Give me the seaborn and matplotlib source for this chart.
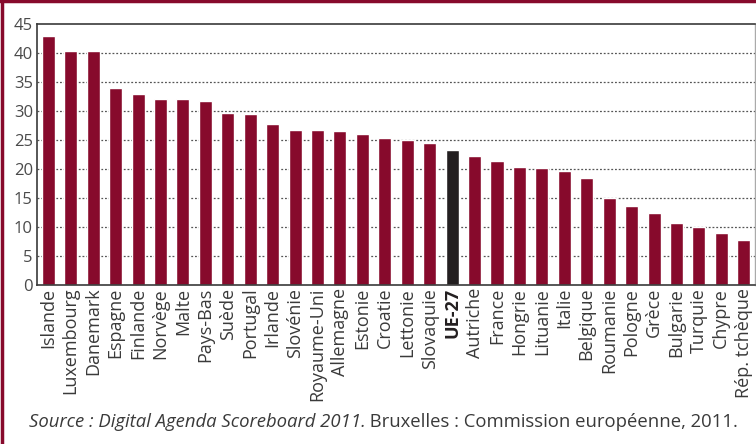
import pandas as pd
import matplotlib.pyplot as plt
import seaborn as sns
from matplotlib.lines import Line2D

# Data
countries = ["Islande", "Luxembourg", "Danemark", "Espagne", "Finlande", "Norvège",
             "Malte", "Pays-Bas", "Suède", "Portugal", "Irlande", "Slovénie",
             "Royaume-Uni", "Allemagne", "Estonie", "Croatie", "Lettonie", "Slovaquie",
             "UE-27", "Autriche", "France", "Hongrie", "Lituanie", "Italie", "Belgique",
             "Roumanie", "Pologne", "Grèce", "Bulgarie", "Turquie", "Chypre", "Rép. tchèque"]
values = [42.9, 40.3, 40.3, 34.0, 32.9, 32.1,
          32.1, 31.7, 29.7, 29.5, 27.8, 26.7,
          26.7, 26.5, 26.0, 25.3, 25.0, 24.5,
          23.3, 22.2, 21.4, 20.3, 20.2, 19.7, 18.4,
          15.0, 13.6, 12.4, 10.7, 10.0, 9.0, 7.8]
yticks = [0, 5, 10, 15, 20, 25, 30, 35, 40, 45]
source_italic = "Source : Digital Agenda Scoreboard 2011."
source_rest = " Bruxelles : Commission européenne, 2011."

MAROON = "#870A2C"
DARK = "#231F20"

df = pd.DataFrame({"pays": countries, "valeur": values})
palette = {c: (DARK if c == "UE-27" else MAROON) for c in countries}

sns.set_theme(style="white")
plt.rcParams['font.family'] = ['Open Sans', 'DejaVu Sans']

fig = plt.figure(figsize=(7.56, 4.44), dpi=100)
ax = fig.add_axes([0.049, 0.358, 0.9497, 0.588])

sns.barplot(data=df, x="pays", y="valeur", hue="pays", palette=palette,
            width=0.58, legend=False, saturation=1, ax=ax)

ax.set_xlim(-0.5, len(countries) - 0.5)
ax.set_ylim(0, 45)
ax.set_yticks(yticks)
ax.set_yticklabels([str(t) for t in yticks], fontsize=12, color="#4a4a4a")
ax.set_xlabel("")
ax.set_ylabel("")
ax.tick_params(axis="both", length=0, pad=3)
ax.tick_params(axis="x", pad=2)

ax.set_xticks(range(len(countries)))
ax.set_xticklabels(countries, rotation=90, fontsize=13, color="#3a3a3a")
for lab in ax.get_xticklabels():
    if lab.get_text() == "UE-27":
        lab.set_fontweight("bold")
        lab.set_color(DARK)

# dotted gridlines
for t in yticks[1:-1]:
    ax.axhline(t, color="#555555", linestyle=(0, (1.5, 1.5)), linewidth=0.9, zorder=0)

for s in ["left", "bottom", "top"]:
    ax.spines[s].set_color("#3a3a3a")
    ax.spines[s].set_linewidth(1.2)
ax.spines["right"].set_color("#aaaaaa")
ax.spines["right"].set_linewidth(1.0)

# maroon frame (top and left)
fig.add_artist(Line2D([0, 1], [0.997, 0.997], transform=fig.transFigure,
                      color=MAROON, linewidth=2.5))
fig.add_artist(Line2D([0.002, 0.002], [0, 1], transform=fig.transFigure,
                      color=MAROON, linewidth=2.5))

# source line
t1 = fig.text(0.038, 0.038, source_italic, fontsize=13.3, style="italic", color="#3a3a3a")
fig.canvas.draw()
bb = t1.get_window_extent()
x_end = fig.transFigure.inverted().transform((bb.x1, bb.y0))[0]
fig.text(x_end, 0.038, source_rest, fontsize=13.3, color="#3a3a3a")

fig.savefig("out.png", dpi=100)
